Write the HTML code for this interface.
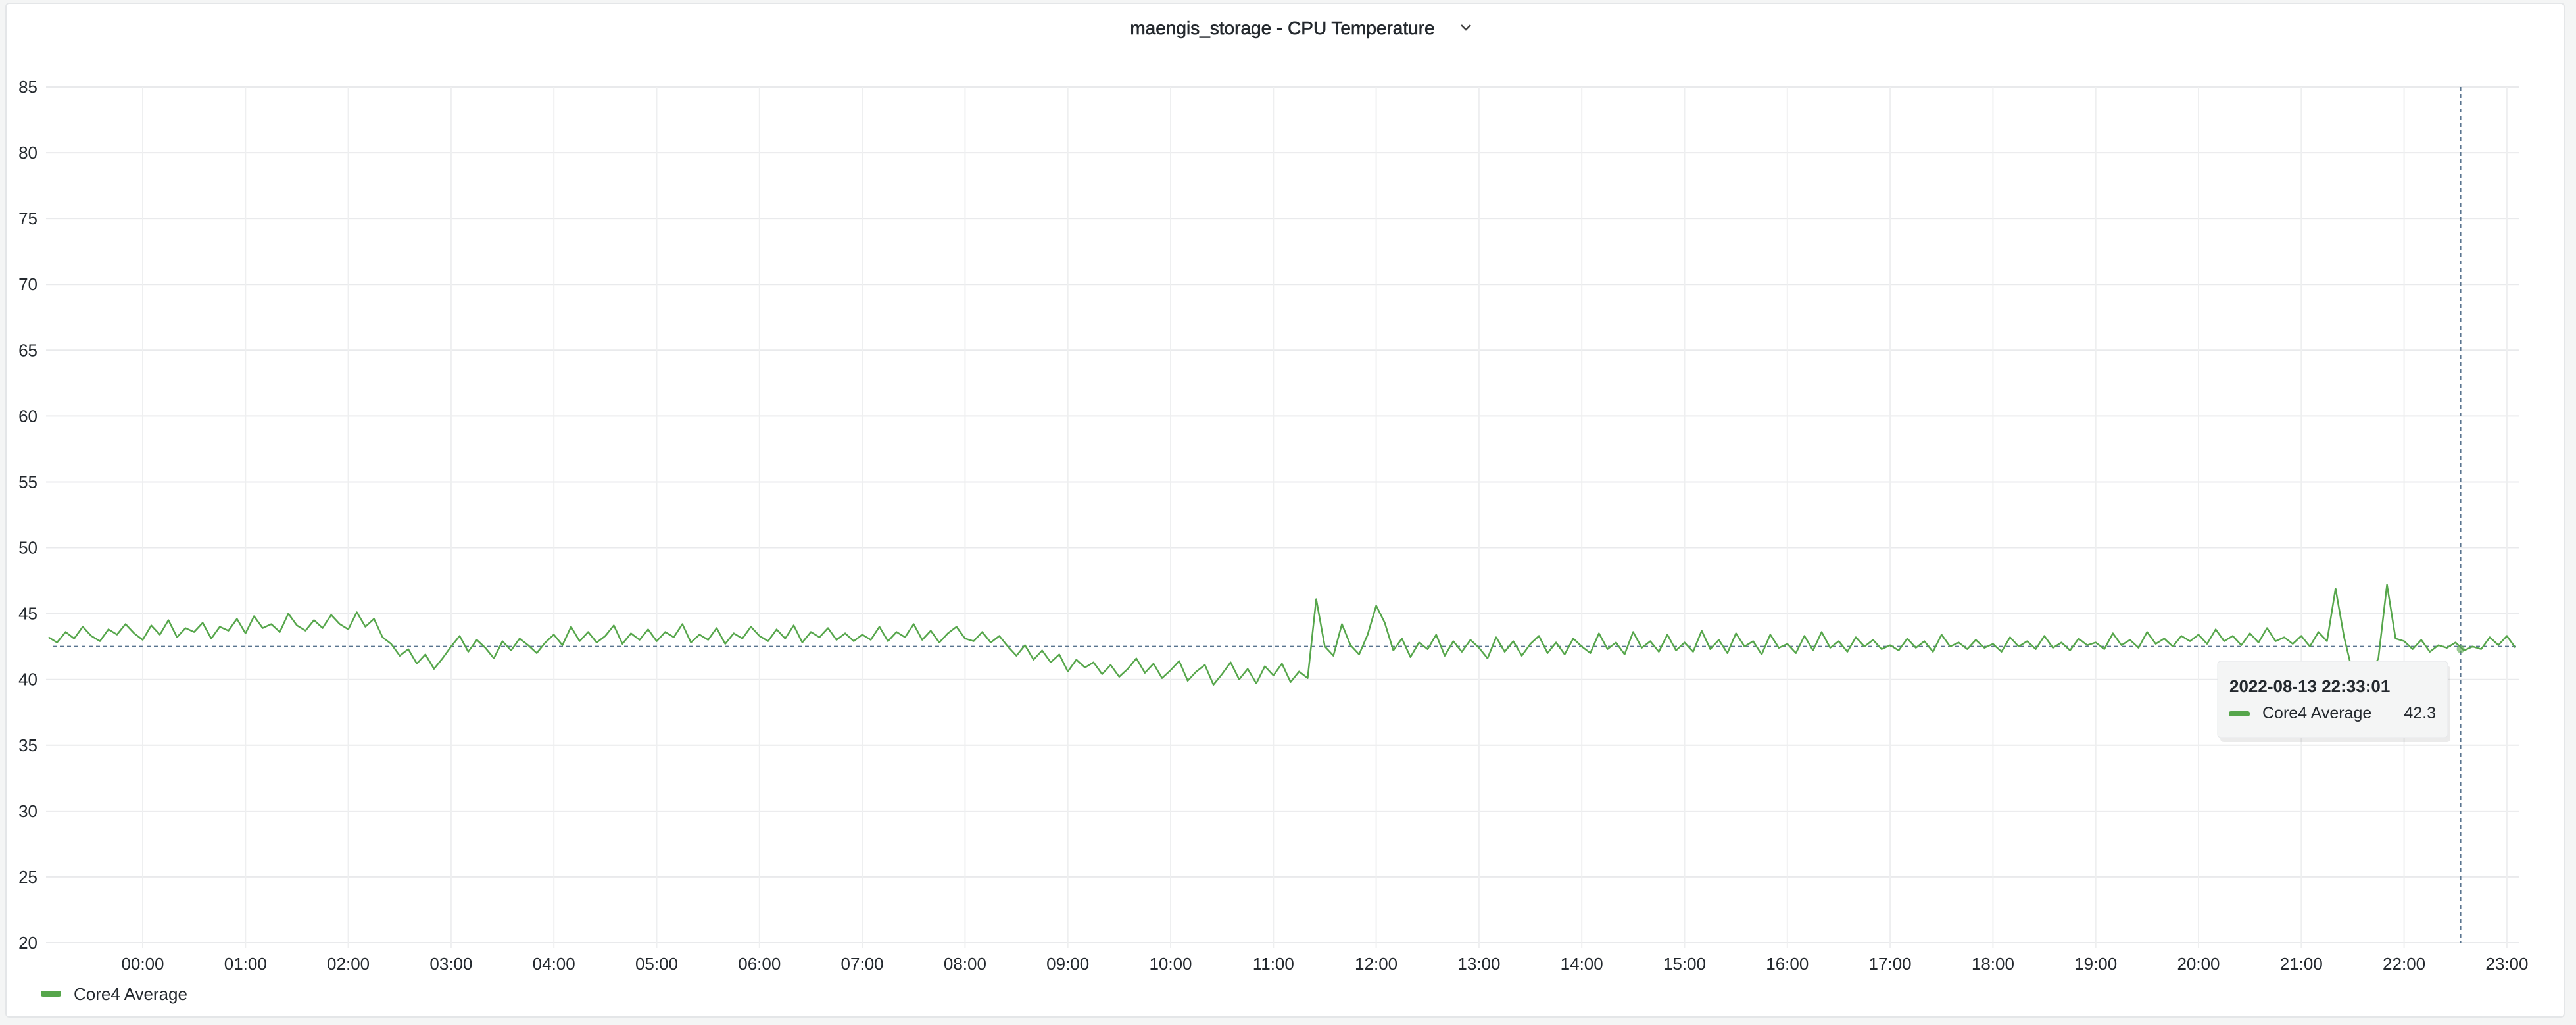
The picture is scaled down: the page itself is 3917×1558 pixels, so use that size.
<!DOCTYPE html>
<html><head><meta charset="utf-8">
<style>
html,body{margin:0;padding:0;background:#f4f5f5;}
body{width:3917px;height:1558px;position:relative;overflow:hidden;font-family:"Liberation Sans",sans-serif;}
#panel{position:absolute;left:8px;top:4px;width:3892px;height:1543px;background:#fff;border:2px solid #e4e6e8;border-radius:6px;box-sizing:border-box;}
svg{position:absolute;left:0;top:0;}
</style></head>
<body>
<div id="panel"></div>
<svg id="chart" width="3917" height="1558">
<text x="1950" y="52" text-anchor="middle" font-size="28" stroke="#24292e" stroke-width="0.6" fill="#24292e">maengis_storage - CPU Temperature</text>
<path d="M2222 38 l7 7 l7 -7" stroke="#444" stroke-width="2.5" fill="none"/>
<g id="grid"></g>
<g id="series"></g>
<g id="legend">
<rect x="62" y="1506" width="31" height="9" rx="3" fill="#56a64b"/>
<text x="112" y="1520" font-size="26" fill="#24292e">Core4 Average</text>
</g>
</svg>
<script>
const yTicks=[20,25,30,35,40,45,50,55,60,65,70,75,80,85];
const xTickLabels=["00:00","01:00","02:00","03:00","04:00","05:00","06:00","07:00","08:00","09:00","10:00","11:00","12:00","13:00","14:00","15:00","16:00","17:00","18:00","19:00","20:00","21:00","22:00","23:00"];
const startMinute=-55;
const stepMinutes=5;
const values=[43.2,42.8,43.6,43.1,44.0,43.3,42.9,43.8,43.4,44.2,43.5,
43.0,44.1,43.4,44.5,43.2,43.9,43.6,44.3,43.1,44.0,43.7,44.6,
43.5,44.8,43.9,44.2,43.6,45.0,44.1,43.7,44.5,43.9,44.9,44.2,
43.8,45.1,44.0,44.6,43.2,42.7,41.8,42.3,41.2,41.9,40.8,41.6,
42.5,43.3,42.1,43.0,42.4,41.6,42.9,42.2,43.1,42.6,42.0,42.8,
43.4,42.6,44.0,42.9,43.6,42.8,43.3,44.1,42.7,43.5,43.0,43.8,
42.9,43.6,43.2,44.2,42.8,43.4,43.0,43.9,42.7,43.5,43.1,44.0,
43.3,42.9,43.8,43.1,44.1,42.8,43.6,43.2,43.9,43.0,43.5,42.9,
43.4,43.0,44.0,42.9,43.6,43.2,44.2,43.0,43.7,42.8,43.5,44.0,
43.1,42.9,43.6,42.8,43.3,42.5,41.8,42.6,41.5,42.2,41.3,41.9,
40.6,41.5,40.9,41.3,40.4,41.1,40.2,40.8,41.6,40.5,41.2,40.1,
40.7,41.4,39.9,40.6,41.1,39.6,40.4,41.3,40.0,40.8,39.7,41.0,
40.3,41.2,39.8,40.6,40.1,46.1,42.5,41.8,44.2,42.6,41.9,43.4,
45.6,44.3,42.2,43.1,41.7,42.8,42.3,43.4,41.8,42.9,42.1,43.0,
42.4,41.6,43.2,42.1,42.9,41.8,42.7,43.3,42.0,42.8,41.9,43.1,
42.5,42.0,43.5,42.3,42.8,41.9,43.6,42.4,42.9,42.1,43.4,42.2,
42.8,42.1,43.7,42.3,43.0,42.0,43.5,42.5,42.9,41.9,43.4,42.4,
42.7,42.0,43.3,42.2,43.6,42.4,42.9,42.1,43.2,42.5,43.0,42.3,
42.6,42.2,43.1,42.4,42.9,42.1,43.4,42.5,42.8,42.3,43.0,42.4,
42.7,42.1,43.2,42.5,42.9,42.3,43.3,42.4,42.8,42.2,43.1,42.6,
42.8,42.3,43.5,42.6,43.0,42.4,43.6,42.7,43.1,42.5,43.3,42.9,
43.4,42.7,43.8,42.9,43.3,42.6,43.5,42.8,43.9,42.9,43.2,42.7,
43.3,42.5,43.6,42.9,46.9,43.2,40.5,41.3,40.4,41.6,47.2,43.1,
42.9,42.3,43.0,42.1,42.6,42.4,42.8,42.2,42.5,42.3,43.2,42.6,
43.3,42.4];
const refValue=42.5;
const cursorMinute=22*60+33;
const cursorValue=42.3;

const NS="http://www.w3.org/2000/svg";
const plotL=70,plotR=3830,plotT=132,plotB=1433;
const yMin=20,yMax=85;
function y(v){return plotB-(v-yMin)*(plotB-plotT)/(yMax-yMin);}
function x(m){return 217+m*156.3/60;}
function mk(tag,attrs,parent){const e=document.createElementNS(NS,tag);for(const k in attrs)e.setAttribute(k,attrs[k]);parent.appendChild(e);return e;}
const grid=document.getElementById('grid');
yTicks.forEach(v=>{
  const l=mk('line',{x1:plotL,x2:plotR,y1:y(v),y2:y(v),stroke:'#e9eaec','stroke-width':2},grid);
  
  
  const t=mk('text',{x:57,y:y(v)+9,'text-anchor':'end','font-size':26,fill:'#24292e'},grid);
  t.textContent=v;
  
  
});
xTickLabels.forEach((s,i)=>{
  const xx=x(i*60);
  const l=mk('line',{x1:xx,x2:xx,y1:plotT,y2:plotB+8,stroke:'#eeeff0','stroke-width':2},grid);
  
  
  const t=mk('text',{x:xx,y:1474,'text-anchor':'middle','font-size':26,fill:'#24292e'},grid);
  t.textContent=s;
  
  
});
const ser=document.getElementById('series');
const ref=mk('line',{x1:plotL+10,x2:plotR,y1:y(refValue),y2:y(refValue),stroke:'#5a7590','stroke-width':2,'stroke-dasharray':'6,5'},ser);


let d='';
values.forEach((v,i)=>{const m=startMinute+i*stepMinutes;d+=(i?'L':'M')+x(m).toFixed(1)+' '+y(v).toFixed(1);});
const line=mk('path',{d:d,fill:'none',stroke:'#56a64b','stroke-width':2.5,'stroke-linejoin':'round'},ser);


const cur=mk('line',{x1:x(cursorMinute),x2:x(cursorMinute),y1:plotT,y2:plotB,stroke:'#5a7590','stroke-width':2,'stroke-dasharray':'6,5'},ser);


const pt=mk('circle',{cx:x(cursorMinute),cy:y(cursorValue),r:6,fill:'#56a64b','fill-opacity':0.6},ser);


const tg=mk('g',{},ser);


mk('rect',{x:3376,y:1012,width:350,height:116,rx:5,fill:'#000','fill-opacity':0.08},tg);
mk('rect',{x:3372,y:1005,width:350,height:116,rx:5,fill:'#f4f5f5',stroke:'#e6e8ea','stroke-width':1},tg);
const td=mk('text',{x:3390,y:1052,'font-size':26,'font-weight':'bold',fill:'#24292e'},tg);
td.textContent='2022-08-13 22:33:01';


const sw=mk('rect',{x:3389,y:1081,width:32,height:8,rx:3,fill:'#56a64b'},tg);


const tn=mk('text',{x:3440,y:1092,'font-size':25,fill:'#24292e'},tg);
tn.textContent='Core4 Average';


const tv=mk('text',{x:3704,y:1092,'font-size':25,'text-anchor':'end',fill:'#24292e'},tg);
tv.textContent=String(cursorValue);


</script>
</body></html>
